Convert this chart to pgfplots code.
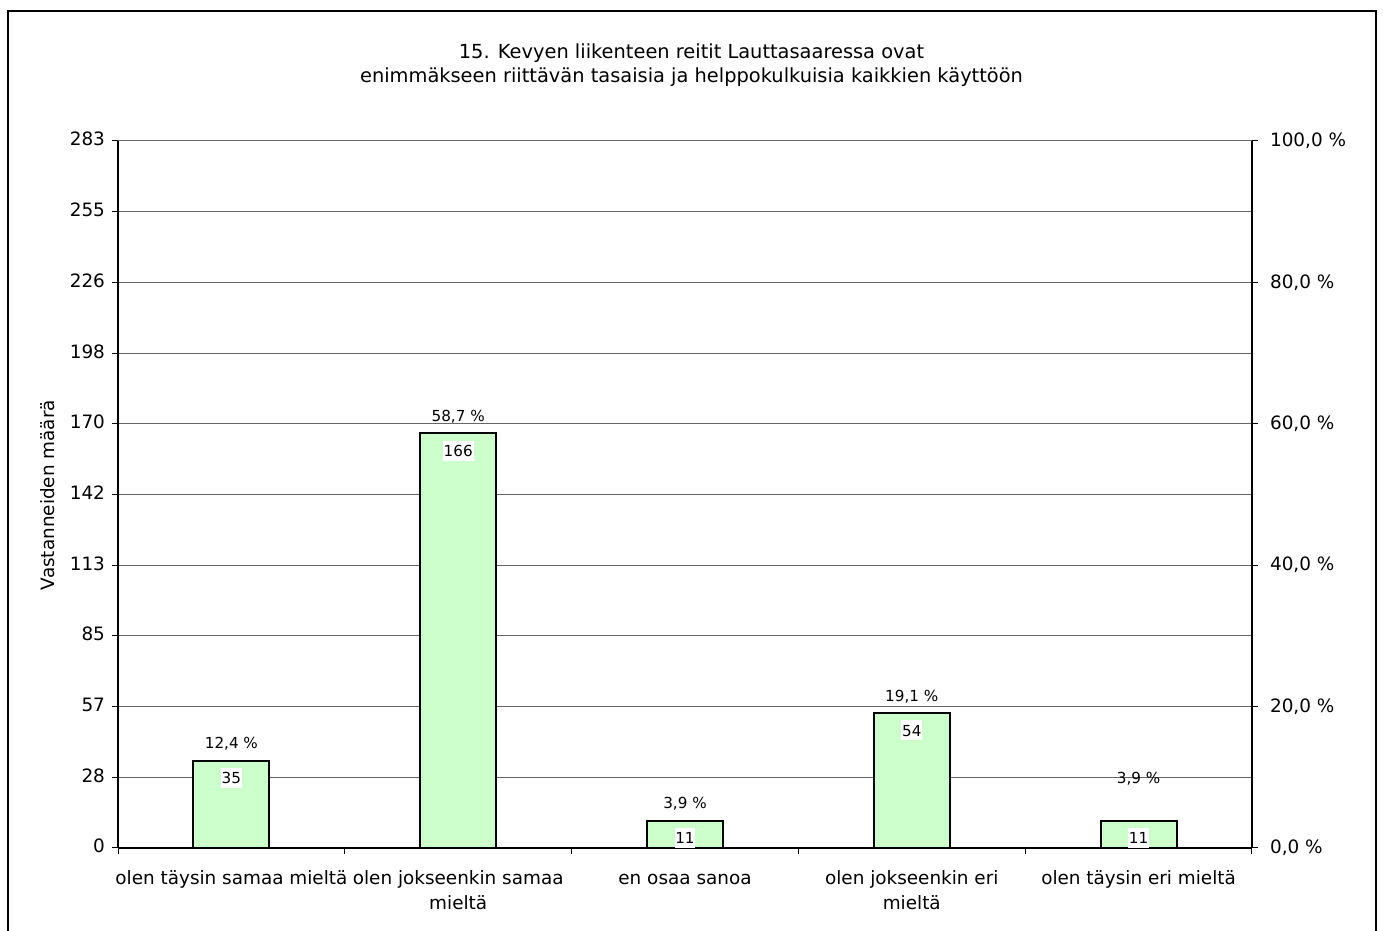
\documentclass[border=0pt]{standalone}
\usepackage{fontspec}
\setmainfont{DejaVu Sans}
\usepackage{pgfplots}
\pgfplotsset{compat=1.18}
\definecolor{barfill}{HTML}{CCFFCC}
\begin{document}
\begin{tikzpicture}
\useasboundingbox (0pt,0pt) rectangle (691.5pt,465.5pt);
\draw[line width=1pt] (4pt,-20pt) rectangle (688pt,460pt);
\node[font=\fontsize{9.7}{12}\selectfont, anchor=base] at (345.75pt,436pt)
  {15. Kevyen liikenteen reitit Lauttasaaressa ovat};
\node[font=\fontsize{9.7}{12}\selectfont, anchor=base] at (345.75pt,424pt)
  {enimmäkseen riittävän tasaisia ja helppokulkuisia kaikkien käyttöön};
\node[font=\fontsize{9.2}{11}\selectfont, rotate=90] at (24pt,218pt) {Vastanneiden määrä};
\begin{axis}[
  at={(59pt,41.5pt)}, anchor=south west,
  scale only axis, width=567pt, height=353.5pt,
  xmin=-0.5, xmax=4.5, ymin=0, ymax=283,
  axis x line=bottom, axis y line=left,
  every outer x axis line/.append style={-},
  every outer y axis line/.append style={-},
  axis line style={black, line width=0.6pt},
  xtick={-0.5,0.5,1.5,2.5,3.5,4.5},
  x tick label as interval,
  xticklabels={olen täysin samaa mieltä, olen jokseenkin samaa\\mieltä, en osaa sanoa, olen jokseenkin eri\\mieltä, olen täysin eri mieltä},
  typeset ticklabels with strut,
  ytick={0,28.3,56.6,84.9,113.2,141.5,169.8,198.1,226.4,254.7,283},
  yticklabels={0,28,57,85,113,142,170,198,226,255,283},
  tick align=outside, major tick length=3pt,
  tick style={black, line width=0.5pt},
  ymajorgrids, grid style={gray!80!black, line width=0.5pt},
  tick label style={font=\fontsize{9.2}{12.5}\selectfont},
  xticklabel style={align=center, yshift=-2.8pt},
  /pgf/number format/assume math mode=true,
  clip=false,
]
\addplot[ybar, bar width=38pt, fill=barfill, draw=black, line width=1pt,
  nodes near coords, nodes near coords align={below},
  every node near coord/.append style={font=\fontsize{7.6}{9}\selectfont, fill=white, text=black,
    text height=5.6pt, text depth=0pt, inner xsep=0.4pt, inner ysep=2.2pt, yshift=-3.2pt}]
  coordinates {(0,35) (1,166) (2,11) (3,54) (4,11)};
\addplot[draw=none, mark=none, nodes near coords, point meta=explicit symbolic,
  nodes near coords align={center},
  every node near coord/.append style={font=\fontsize{7.6}{9}\selectfont, text=black, yshift=8.3pt}]
  coordinates {(0,35) [12,4 \%] (1,166) [58,7 \%] (2,11) [3,9 \%] (3,54) [19,1 \%] (4,21) [3,9 \%]};
\end{axis}
\begin{axis}[
  at={(59pt,41.5pt)}, anchor=south west,
  scale only axis, width=567pt, height=353.5pt,
  xmin=-0.5, xmax=4.5, ymin=0, ymax=100,
  axis x line=none, axis y line=right,
  every outer y axis line/.append style={-},
  axis line style={black, line width=0.6pt},
  ytick={0,20,40,60,80,100},
  yticklabels={{0,0 \%},{20,0 \%},{40,0 \%},{60,0 \%},{80,0 \%},{100,0 \%}},
  tick align=outside, major tick length=3pt,
  tick style={black, line width=0.5pt},
  tick label style={font=\fontsize{9.2}{12.5}\selectfont},
  yticklabel style={xshift=2.5pt},
]
\addplot[draw=none] coordinates {(0,0) (4,100)};
\end{axis}
\end{tikzpicture}
\end{document}
